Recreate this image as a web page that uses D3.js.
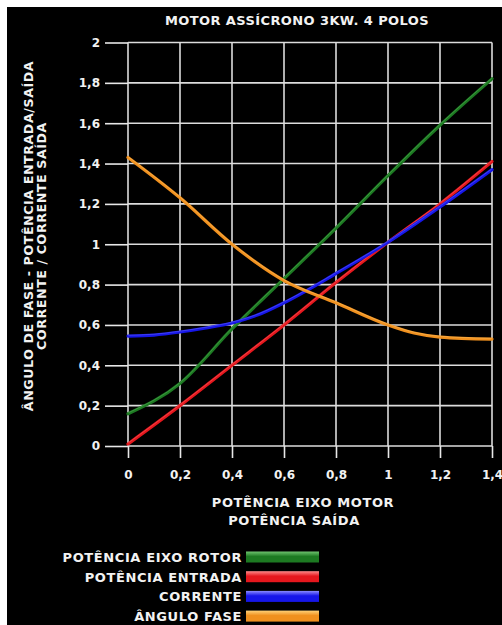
<!DOCTYPE html>
<html>
<head>
<meta charset="utf-8">
<script src="https://cdn.jsdelivr.net/npm/d3@7"></script>
<style>
  body { margin: 0; background: #fff; }
  svg text { font-family: "DejaVu Sans", sans-serif; font-weight: bold; fill: #f2f2f2; }
  .lbl { letter-spacing: 0.6px; }
  .axis path, .axis line { stroke: #e8e8e8; stroke-width: 1.6; }
  .grid line { stroke: #dcdcdc; stroke-width: 1.6; }
</style>
</head>
<body>
<div id="chart"></div>
<script>
const title = "MOTOR ASSÍCRONO 3KW. 4 POLOS",
      yLabel = ["ÂNGULO DE FASE - POTÊNCIA ENTRADA/SAÍDA", "CORRENTE / CORRENTE SAÍDA"],
      xLabel = ["POTÊNCIA EIXO MOTOR", "POTÊNCIA  SAÍDA"],
      xTicks = [0, 0.2, 0.4, 0.6, 0.8, 1, 1.2, 1.4],
      yTicks = [0, 0.2, 0.4, 0.6, 0.8, 1, 1.2, 1.4, 1.6, 1.8, 2]

// series values
const xEixo = [0, 0.2, 0.4, 0.6, 0.8, 1, 1.2, 1.4],
      yEixo = [0.16, 0.31, 0.58, 0.83, 1.08, 1.34, 1.59, 1.82]
const xEntrada = [0, 0.2, 0.4, 0.6, 0.8, 1, 1.2, 1.4],
      yEntrada = [0.01, 0.2, 0.4, 0.6, 0.81, 1.01, 1.2, 1.41]
const xCorrente = [0, 0.1, 0.2, 0.3, 0.4, 0.5, 0.6, 0.8, 1, 1.2, 1.4],
      yCorrente = [0.545, 0.55, 0.565, 0.585, 0.61, 0.65, 0.71, 0.855, 1.01, 1.185, 1.37]
const xAngulo = [0, 0.2, 0.4, 0.6, 0.8, 1, 1.1, 1.2, 1.4],
      yAngulo = [1.43, 1.23, 1.0, 0.82, 0.71, 0.6, 0.56, 0.54, 0.53]

const legendNames = ["POTÊNCIA EIXO ROTOR", "POTÊNCIA ENTRADA", "CORRENTE", "ÂNGULO FASE"],
      colors = ["#1d7a22", "#e5171d", "#1616e8", "#f0901e"],
      lightColors = ["#6fc46f", "#ff8a8a", "#8c8cff", "#ffd27a"]

const series = [
  {x: xEixo, y: yEixo},
  {x: xEntrada, y: yEntrada},
  {x: xCorrente, y: yCorrente},
  {x: xAngulo, y: yAngulo}
]

const w = 502, h = 625,
      margin = {top: 42.5, right: 10, bottom: 179, left: 128}

const x = d3.scaleLinear()
  .domain([0, 1.4])
  .range([margin.left, w - margin.right])
const y = d3.scaleLinear()
  .domain([0, 2])
  .range([h - margin.bottom, margin.top])

const svg = d3.select("#chart").append("svg")
  .attr("width", w)
  .attr("height", h)

svg.append("rect")
  .attr("x", 7).attr("y", 7)
  .attr("width", w - 7).attr("height", h - 7)
  .attr("fill", "#000")

const defs = svg.append("defs")
colors.forEach((c, i) => {
  const g = defs.append("linearGradient")
    .attr("id", "sw" + i)
    .attr("x1", 0).attr("y1", 0).attr("x2", 0).attr("y2", 1)
  g.append("stop").attr("offset", "0%").attr("stop-color", lightColors[i])
  g.append("stop").attr("offset", "45%").attr("stop-color", c)
  g.append("stop").attr("offset", "100%").attr("stop-color", c)
})

// title
svg.append("text")
  .attr("class", "lbl")
  .attr("x", 297)
  .attr("y", 25)
  .attr("text-anchor", "middle")
  .style("font-size", "13px")
  .style("letter-spacing", "0.4px")
  .text(title)

// grid
svg.append("g")
  .attr("class", "grid")
  .selectAll("line.v")
  .data(xTicks)
  .join("line")
  .attr("x1", d => x(d)).attr("x2", d => x(d))
  .attr("y1", y(2)).attr("y2", y(0))
svg.append("g")
  .attr("class", "grid")
  .selectAll("line.h")
  .data(yTicks)
  .join("line")
  .attr("x1", x(0)).attr("x2", x(1.4))
  .attr("y1", d => y(d)).attr("y2", d => y(d))

const fmt = d => d3.format("")(d).replace(".", ",")

// axes
const xAxis = svg.append("g")
  .attr("class", "axis")
  .attr("transform", `translate(0, ${y(0)})`)
  .call(d3.axisBottom(x).tickValues(xTicks).tickFormat(fmt).tickSize(12).tickSizeOuter(0).tickPadding(12))
xAxis.select(".domain").remove()
xAxis.selectAll("text").style("font-size", "12px").attr("fill", "#f2f2f2")

const yAxis = svg.append("g")
  .attr("class", "axis")
  .attr("transform", `translate(${x(0)}, 0)`)
  .call(d3.axisLeft(y).tickValues(yTicks).tickFormat(fmt).tickSize(23).tickSizeOuter(0).tickPadding(5))
yAxis.select(".domain").remove()
yAxis.selectAll("text").style("font-size", "12px").attr("fill", "#f2f2f2")

// axis titles
yLabel.forEach((t, i) => {
  svg.append("text")
    .attr("class", "lbl")
    .attr("transform", `translate(${33 + i * 13}, 236) rotate(-90)`)
    .attr("text-anchor", "middle")
    .style("font-size", "12.6px")
    .text(t)
})
xLabel.forEach((t, i) => {
  svg.append("text")
    .attr("class", "lbl")
    .attr("x", 303 - i * 9)
    .attr("y", 507 + i * 18)
    .attr("text-anchor", "middle")
    .style("font-size", "13px")
    .text(t)
})

// lines
const line = d3.line()
  .x(d => x(d[0]))
  .y(d => y(d[1]))
  .curve(d3.curveMonotoneX)

series.forEach((s, i) => {
  const pts = s.x.map((v, j) => [v, s.y[j]])
  svg.append("path")
    .datum(pts)
    .attr("fill", "none")
    .attr("stroke", colors[i])
    .attr("stroke-width", 3.2)
    .attr("stroke-linecap", "round")
    .attr("d", line)
  svg.append("path")
    .datum(pts)
    .attr("fill", "none")
    .attr("stroke", lightColors[i])
    .attr("stroke-opacity", 0.35)
    .attr("stroke-width", 1)
    .attr("transform", "translate(0,-0.8)")
    .attr("d", line)
})

// legend
const legend = svg.append("g")
legendNames.forEach((n, i) => {
  const ly = 557 + i * 19.7
  legend.append("text")
    .attr("class", "lbl")
    .attr("x", 242)
    .attr("y", ly + 5)
    .attr("text-anchor", "end")
    .style("font-size", "13px")
    .text(n)
  legend.append("rect")
    .attr("x", 246)
    .attr("y", ly - 5.5)
    .attr("width", 73)
    .attr("height", 11)
    .attr("fill", `url(#sw${i})`)
})
</script>
</body>
</html>
